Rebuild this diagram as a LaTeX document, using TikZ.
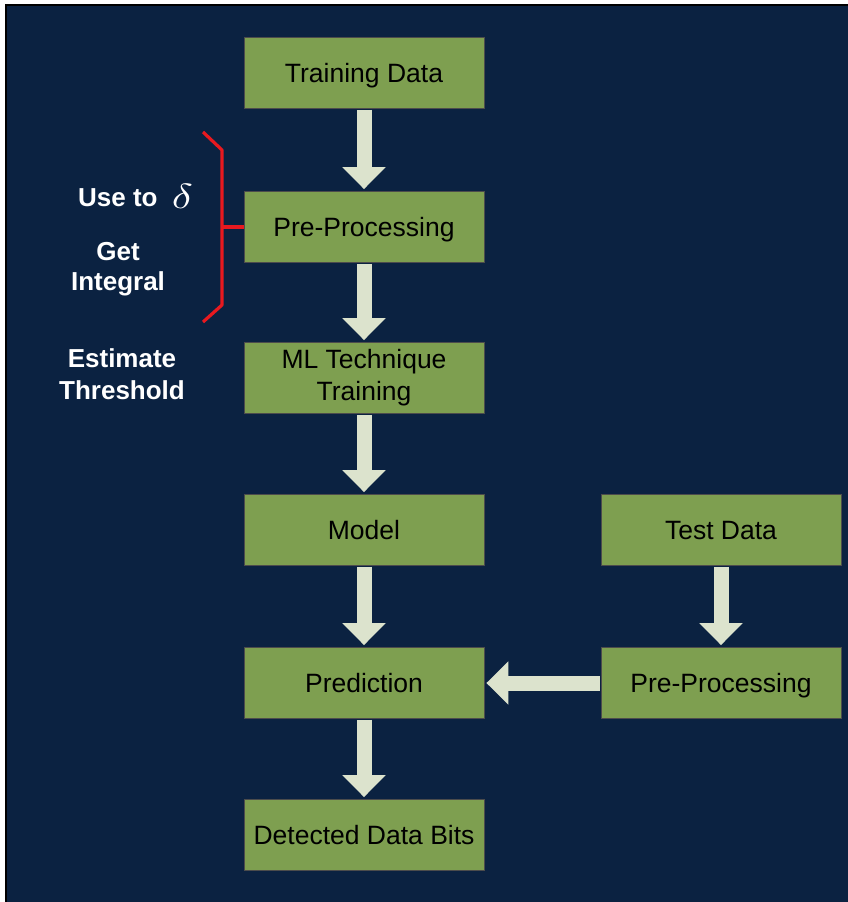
\documentclass[tikz,border=0pt]{standalone}
\usepackage{fontspec}
\setmainfont{Liberation Sans}
\usetikzlibrary{arrows.meta}
\definecolor{navy}{HTML}{0B2241}
\definecolor{boxgreen}{HTML}{7E9F50}
\definecolor{arrowfill}{HTML}{DCE3CD}
\definecolor{bracketred}{HTML}{E8191F}
\tikzset{
  flowbox/.style={draw=black!70, line width=0.8pt, fill=boxgreen, minimum width=240pt, minimum height=71pt, inner sep=0pt, align=center, font=\fontsize{26.5}{32}\selectfont, text=black},
  oneline/.style={text height=19pt, text depth=0pt},
  fatarrow/.style={draw=arrowfill, line width=15pt, -{Triangle[width=42pt,length=22pt,fill=arrowfill]}, shorten >=2pt, shorten <=1pt},
  sidetext/.style={text=white, font=\fontsize{26}{32}\bfseries\selectfont, align=center, inner sep=0pt},
  bracket/.style={draw=bracketred, line width=3.2pt}
}
\begin{document}
\begin{tikzpicture}[x=1pt,y=-1pt]
\useasboundingbox (0,0) rectangle (848,902);
\fill[white] (0,0) rectangle (848,902);
\fill[navy] (6,5) rectangle (848,902);
\draw[black, line width=1.2pt] (6,902) -- (6,5) -- (848,5);

\node[flowbox, oneline] (train) at (364,73) {Training Data};
\node[flowbox, oneline] (pre1) at (364,227) {Pre-Processing};
\node[flowbox] (ml) at (364,378) {ML Technique\\Training};
\node[flowbox, oneline] (model) at (364,530) {Model};
\node[flowbox, oneline] (pred) at (364,683) {Prediction};
\node[flowbox, oneline] (bits) at (364,835) {Detected Data Bits};
\node[flowbox, oneline] (test) at (721,530) {Test Data};
\node[flowbox, oneline] (pre2) at (721,683) {Pre-Processing};

\draw[fatarrow] (train) -- (pre1);
\draw[fatarrow] (pre1) -- (ml);
\draw[fatarrow] (ml) -- (model);
\draw[fatarrow] (model) -- (pred);
\draw[fatarrow] (pred) -- (bits);
\draw[fatarrow] (test) -- (pre2);
\draw[fatarrow] (pre2) -- (pred);

% bracket
\coordinate (btop) at (203,132);
\coordinate (btopc) at (222,150);
\coordinate (bbotc) at (222,305);
\coordinate (bbot) at (203,322);
\coordinate (bmid) at (222,227);
\draw[bracket, line join=round] (btop) -- (btopc) -- (bbotc) -- (bbot);
\draw[bracket] (bmid) -- (pre1.west);

\node[sidetext, anchor=base west] (useto) at (78,206) {Use to};
\node[text=white, anchor=base west, inner sep=0pt, scale=3.5, xscale=1.25] (delta) at (171,208) {$\delta$};
\node[sidetext] (get) at (118,252) {Get};
\node[sidetext] (integral) at (118,284) {Integral};
\node[sidetext] (estimate) at (122,358) {Estimate};
\node[sidetext] (threshold) at (122,390) {Threshold};
\end{tikzpicture}
\end{document}
